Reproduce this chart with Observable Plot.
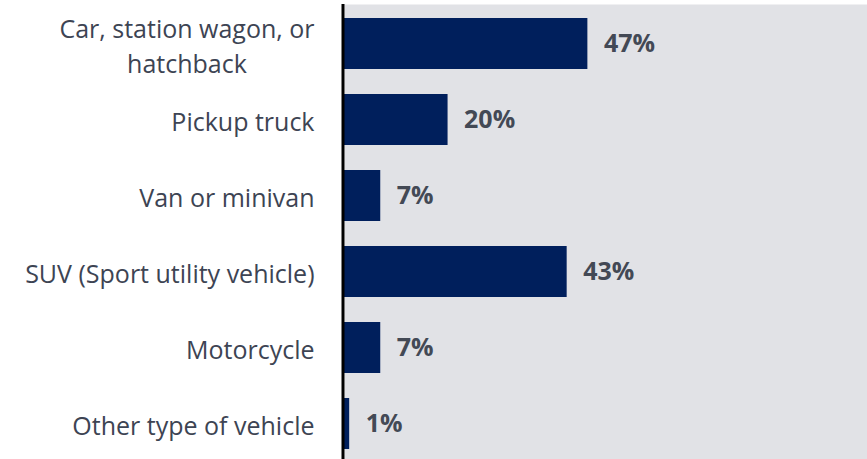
<!DOCTYPE html>
<html>
<head>
<meta charset="utf-8">
<script src="https://cdn.jsdelivr.net/npm/d3@7"></script>
<script src="https://cdn.jsdelivr.net/npm/@observablehq/plot@0.6"></script>
<style>
  html, body { margin: 0; padding: 0; background: #ffffff; }
  #chart svg { display: block; }
</style>
</head>
<body>
<div id="chart"></div>
<script>
const categories = [
  "Car, station wagon, or hatchback",
  "Pickup truck",
  "Van or minivan",
  "SUV (Sport utility vehicle)",
  "Motorcycle",
  "Other type of vehicle"
];
const tickLabels = [
  "Car, station wagon, or\nhatchback",
  "Pickup truck",
  "Van or minivan",
  "SUV (Sport utility vehicle)",
  "Motorcycle",
  "Other type of vehicle"
];
const values = [47, 20, 7, 43, 7, 1];

const data = categories.map((c, i) => ({cat: c, value: values[i], label: values[i] + "%"}));
const labelOf = new Map(categories.map((c, i) => [c, tickLabels[i]]));

const FONT = "'Open Sans', 'Noto Sans', sans-serif";

const chart = Plot.plot({
  width: 867,
  height: 459,
  marginLeft: 344,
  marginRight: 0,
  marginTop: 4,
  marginBottom: 0,
  style: {fontFamily: FONT, background: "#ffffff", color: "#3d4453"},
  x: {domain: [0, 101], axis: null},
  y: {domain: categories, range: [4, 463], paddingInner: 0.333, paddingOuter: 0.17, label: null, axis: null},
  marks: [
    Plot.frame({fill: "#e1e2e6", stroke: null}),
    Plot.barX(data, {x: "value", y: "cat", fill: "#001f5c"}),
    Plot.ruleX([0], {stroke: "#000000", strokeWidth: 3, dx: -1.5}),
    Plot.axisY({
      tickSize: 0,
      tickPadding: 30,
      fontSize: 25,
      lineHeight: 1.4,
      fill: "#3d4453",
      tickFormat: d => labelOf.get(d),
      label: null
    }),
    Plot.text(data, {
      x: "value", y: "cat", text: "label",
      textAnchor: "start", dx: 16,
      fontSize: 25, fontWeight: "bold", fill: "#434955"
    })
  ]
});
document.getElementById("chart").appendChild(chart);

// center the lines of multi-line category labels relative to each other
d3.select(chart).selectAll("text").each(function() {
  const spans = d3.select(this).selectAll("tspan");
  if (spans.size() > 1) {
    let maxW = 0;
    spans.each(function() { maxW = Math.max(maxW, this.getComputedTextLength()); });
    d3.select(this).attr("text-anchor", "middle");
    spans.attr("x", -maxW / 2);
  }
});
</script>
</body>
</html>
